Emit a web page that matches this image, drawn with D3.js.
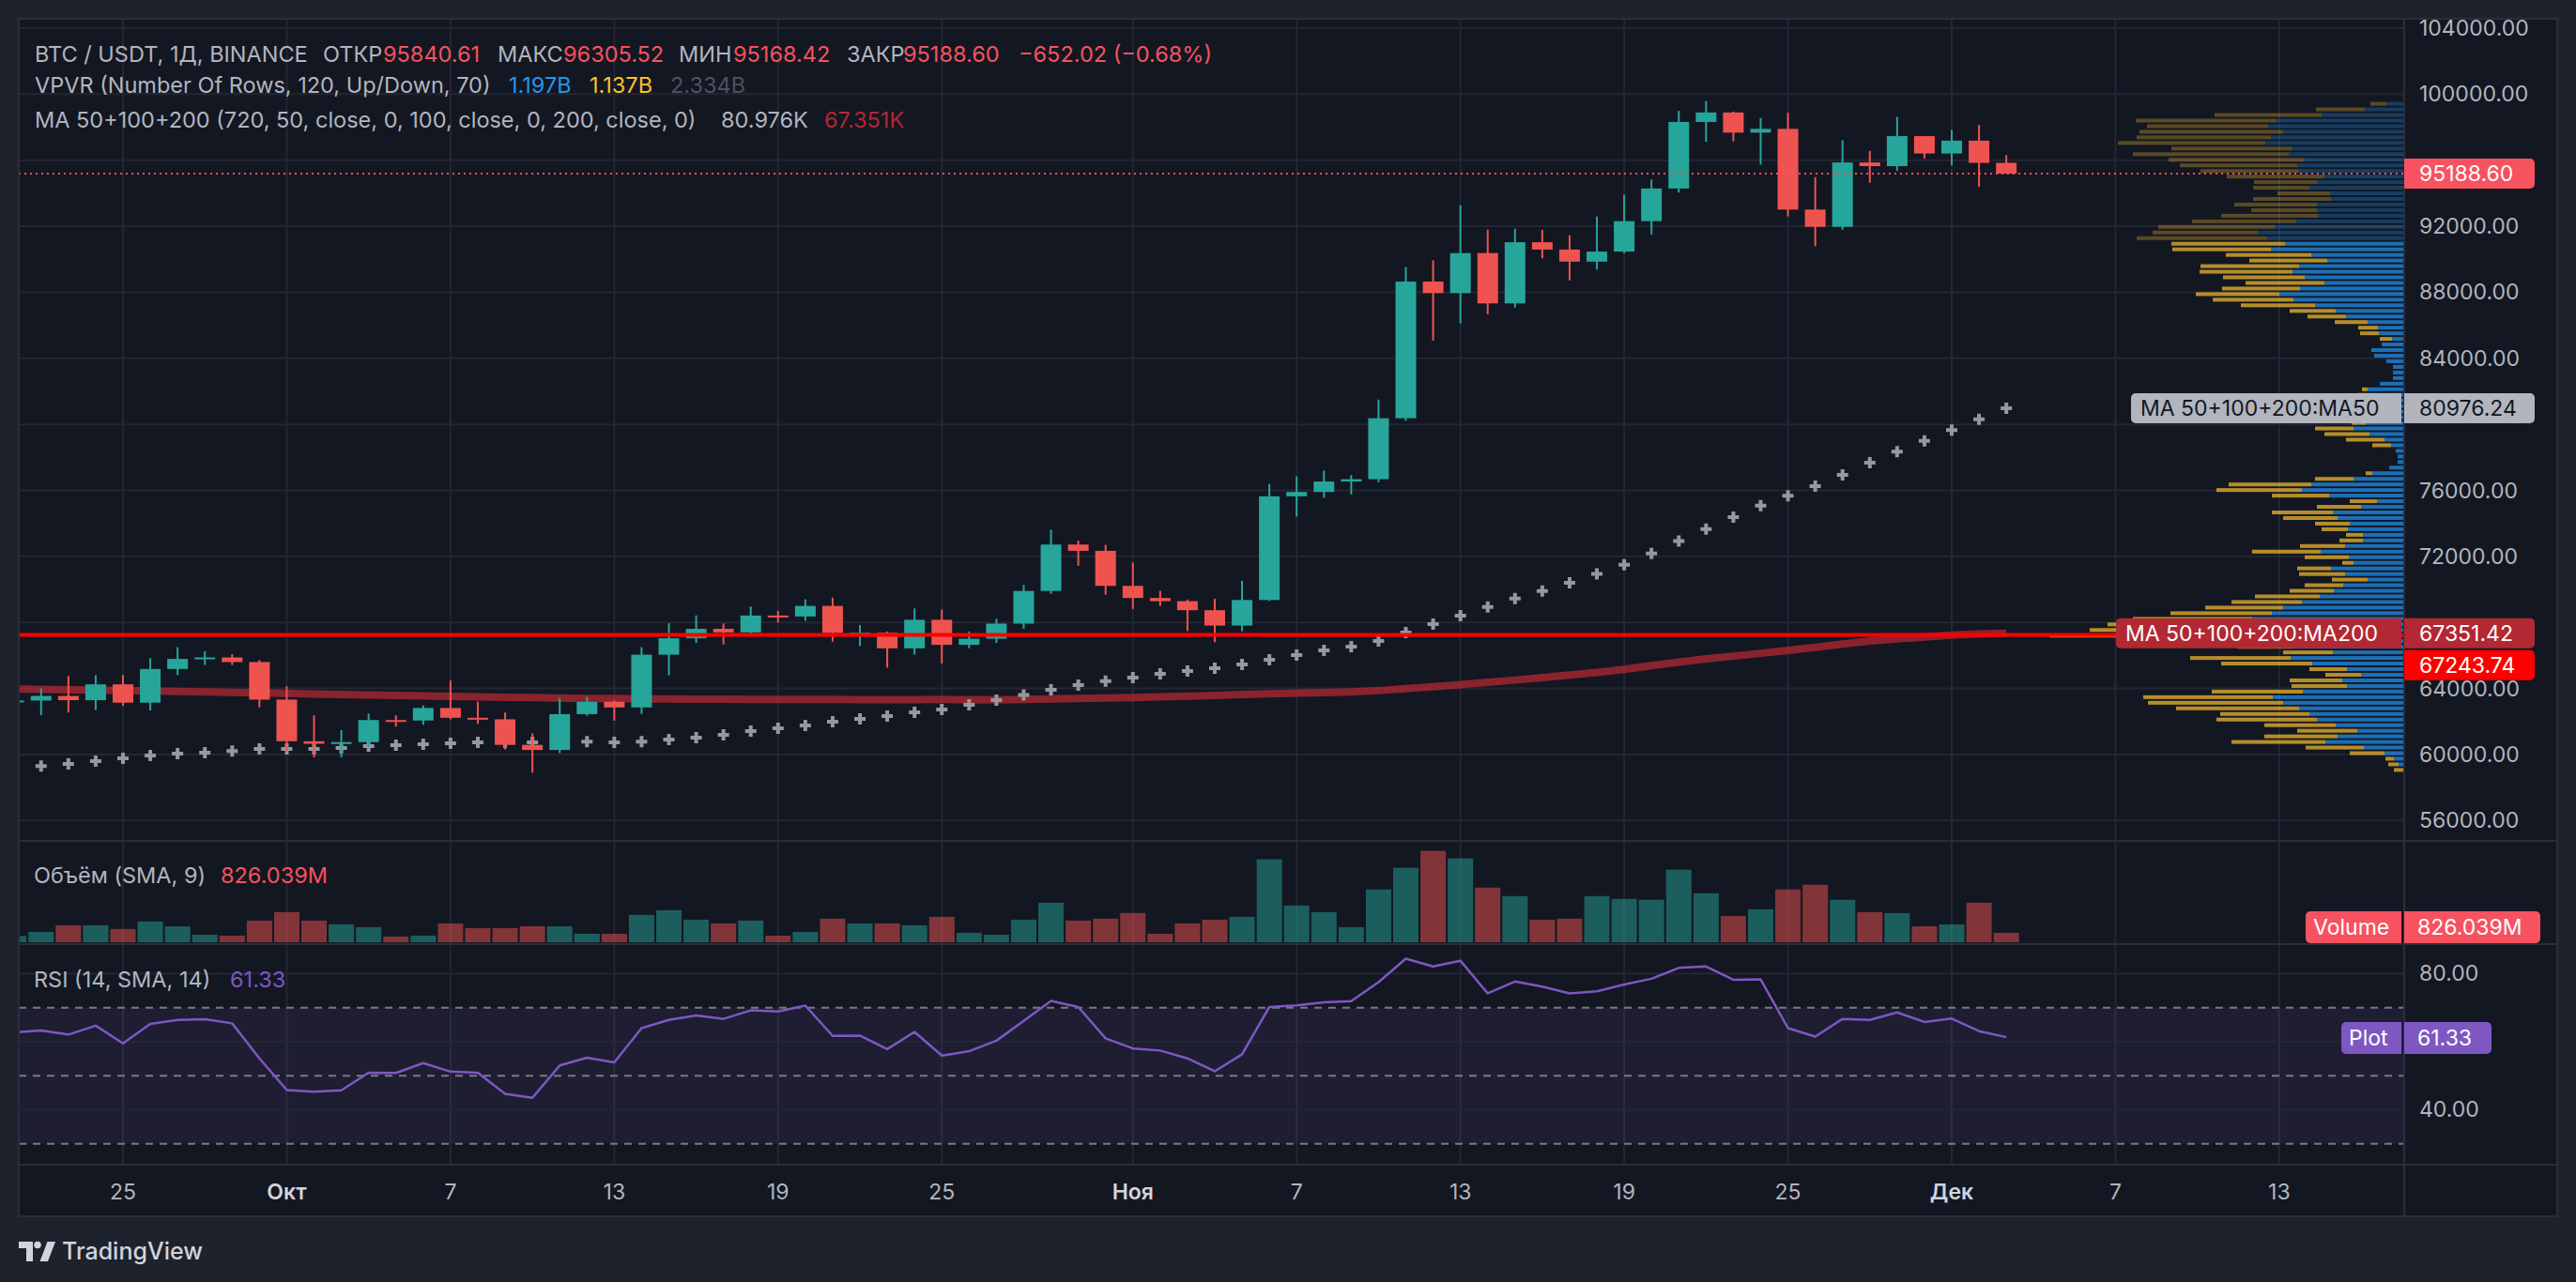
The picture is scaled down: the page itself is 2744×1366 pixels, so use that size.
<!DOCTYPE html>
<html>
<head>
<meta charset="utf-8">
<script src="https://cdn.jsdelivr.net/npm/d3@7"></script>
<style>
  html, body { margin: 0; padding: 0; background: #1e222d; }
  svg { display: block; }
</style>
</head>
<body>
<div id="chart"></div>
<script>
// ---- data (BTC / USDT, 1D, Binance, 21 Sep - 3 Dec 2024) ----
const firstDay = Date.UTC(2024, 8, 21);
const lastDay = Date.UTC(2024, 11, 3);

const open = [63190,63270,63548,63290,64250,63140,65180,65790,65880,65600,
  63327,60805,60649,60752,62086,62058,62819,62224,62131,60582,60275,62445,63193,62851,66046,67041,67612,67399,68418,68362,69001,67367,67380,66432,68161,66642,67014,67929,69907,72720,72339,
  70215,69482,69289,68741,67811,69359,75640,75904,76538,76677,80370,88648,87952,90375,87325,91032,90587,89855,90465,92310,94286,98318,98892,97672,97900,93010,91965,95863,95643,97460,
  96407,97185,95840.61];
const high = [63560,64000,64760,64800,64817,65839,66498,66255,66076,65720,
  64130,62371,61477,62484,62370,62975,64478,63200,62543,61276,63417,63480,63285,66500,67950,68424,67939,68969,68694,69400,69500,67836,67451,68850,68778,67454,68221,70270,73620,72961,72700,
  71632,69914,69388,69433,70522,76400,76849,77199,76925,81500,89530,89940,93265,91790,91850,91779,91449,92594,93905,94831,98988,99588,98945,98564,98871,94973,97208,96564,98619,97463,
  97836,98130,96305.52];
const low = [62760,62380,62540,62690,62950,62670,64819,65427,65420,62856,
  60164,59828,59828,60460,61689,61798,62128,61860,60300,58895,60087,62350,62050,62457,64800,66750,66666,67177,68003,68100,66835,66571,65260,66048,65520,66439,66762,67620,69730,71436,69685,
  68820,69000,67478,66803,67458,69299,74416,75555,75753,76492,80216,85072,86127,86668,87073,90056,88722,89376,90357,91500,94040,97122,97136,95734,92600,90791,91792,94640,95364,96092,
  95693,94395,95168.42];
const close = [63270,63548,63290,64250,63140,65180,65790,65880,65600,63327,
  60805,60649,60752,62086,62058,62819,62224,62131,60582,60275,62445,63193,62851,66046,67041,67612,67399,68418,68362,69001,67367,67380,66432,68161,66642,67014,67929,69907,72720,72339,70215,
  69482,69289,68741,67811,69359,75640,75904,76538,76677,80370,88647,87952,90375,87325,91032,90587,89855,90465,92310,94286,98318,98892,97672,97900,93010,91965,95863,95643,97460,96407,
  97185,95840.61,95188.60];

// volume, millions USDT
const volume = [550,910,1490,1490,1160,1820,1400,660,580,1900,
  2640,1900,1570,1320,500,580,1650,1240,1240,1400,1400,740,740,2400,2810,1980,1650,1900,580,910,2070,1650,1650,1490,2230,830,660,1980,3470,1900,2070,
  2560,740,1650,1980,2230,7270,3220,2640,1320,4630,6530,8010,7350,4790,4050,1980,2070,4050,3800,3720,6360,4300,2310,2890,4630,5040,3720,2640,2560,1400,
  1570,3470,826.039];

const ma50 = [59260,59300,59430,59600,59770,59940,60060,60110,60210,60340,
  60340,60340,60400,60510,60570,60620,60680,60740,60740,60740,60760,60780,60740,60780,60910,61020,61190,61420,61590,61760,61990,62160,62330,62560,62730,63010,63300,63600,63920,64210,64440,
  64660,64890,65060,65230,65460,65740,66030,66310,66540,66880,67390,67900,68410,68930,69450,69898,70405,70934,71500,72174,72925,73650,74385,75075,75680,76250,76945,77673,78350,79000,
  79650,80300,80976.24];
const ma200 = [63970,63950,63920,63900,63870,63850,63820,63790,63760,63730,
  63700,63670,63640,63610,63580,63550,63520,63490,63470,63450,63420,63400,63390,63370,63360,63350,63345,63340,63335,63330,63330,63325,63325,63325,63330,63320,63310,63330,63360,63390,63420,
  63450,63490,63530,63580,63630,63680,63720,63750,63790,63870,63990,64110,64230,64370,64510,64660,64810,64970,65160,65380,65600,65800,65960,66130,66310,66490,66690,66880,67000,67120,
  67230,67300,67351.42];

const rsi = [62.7,63.3,62.1,64.7,59.5,65.2,66.4,66.6,65.4,55.1,
  45.8,45.3,45.7,50.9,50.8,53.7,51.2,50.9,44.7,43.5,53.0,55.3,53.9,64.0,66.4,67.7,66.7,69.2,68.9,70.6,61.7,61.8,57.8,62.9,55.9,57.2,60.3,66.1,72.0,70.2,61.0,
  58.0,57.4,55.1,51.3,56.3,70.2,70.7,71.6,71.9,77.5,84.4,82.1,83.8,74.2,77.7,76.2,74.2,74.8,76.8,78.5,81.7,82.1,78.2,78.3,64.0,61.5,66.7,66.4,68.6,65.8,
  66.8,63.1,61.33];

// volume profile (visible range), 120 rows, listed from the highest price row down
const vpUp = [18,41,87,135,144,128,141,147,119,122,105,113,111,84,92,100,78,77,92,92,91,114,137,155,145,
  126,141,98,81,111,118,105,84,110,132,117,94,72,61,38,27,26,12,23,34,31,18,11,11,11,25,38,39,
  30,28,22,26,40,
  53,36,20,13,8,6,6,15,33,53,98,108,79,28,45,75,70,57,59,43,43,62,88,58,53,77,62,38,64,74,89,108,128,140,161,177,183,203,157,117,
  75,120,97,60,45,65,60,107,139,128,111,100,92,72,49,70,83,42,20,10,5,0];
const vpDown = [17,52,114,150,129,153,143,157,128,166,145,125,105,104,67,60,56,83,88,70,103,111,124,112,139,
  121,105,91,83,105,99,87,84,83,89,86,79,49,41,35,21,20,13,0,0,0,0,0,0,0,0,6,9,
  10,6,0,8,15,
  41,48,41,20,0,0,0,0,7,41,88,91,61,29,47,65,58,37,28,18,25,48,73,47,12,36,49,38,41,47,69,75,83,108,127,138,151,174,87,60,
  53,107,97,40,38,56,59,97,138,144,131,95,107,76,64,78,100,62,37,9,11,10];
const vpValueArea = [25, 119];   // rows inside the 70% value area

const hLinePrice = 67243.74;
const lastPrice = 95188.60;

const priceTicks = d3.range(56000, 104001, 4000);
const rsiGrid = [40, 60, 80];
const rsiBands = [30, 50, 70];
const rsiTicks = [40, 80];
const timeTicks = [[2024,8,25,"25"],[2024,9,1,"Окт"],[2024,9,7,"7"],[2024,9,13,"13"],[2024,9,19,"19"],[2024,9,25,"25"],
  [2024,10,1,"Ноя"],[2024,10,7,"7"],[2024,10,13,"13"],[2024,10,19,"19"],[2024,10,25,"25"],[2024,11,1,"Дек"],[2024,11,7,"7"],[2024,11,13,"13"]];

// ---- layout ----
const W = 2744, H = 1366;
const L = 20, R = 2724, T = 20, B = 1296, AX = 2561;
const mainBottom = 895, volTop = 897, volBottom = 1005, rsiTop = 1007, rsiBottom = 1241;
const FONT = "Inter, 'Noto Sans', sans-serif";
const TXT = "#b2b5be", UP = "#26a69a", DOWN = "#ef5350", LBL_RED = "#f7525f", GRID = "#232733", LINE = "#2a2e39";

const days = d3.utcDay.range(new Date(firstDay), new Date(lastDay + 1));
const bars = days.map((d, i) => ({ d, o: open[i], h: high[i], l: low[i], c: close[i], v: volume[i], ma50: ma50[i], ma200: ma200[i], rsi: rsi[i] }));

const x = d3.scaleUtc().domain([new Date(Date.UTC(2024, 8, 25)), new Date(Date.UTC(2024, 11, 1))]).range([131, 2079]);
const y = d3.scaleLinear().domain([56000, 104000]).range([874.3, 30]);
const yVol = d3.scaleLinear().domain([0, 8800]).range([1004, volTop]);
const yRsi = d3.scaleLinear().domain([30, 70]).range([1218.7, 1073.7]);

const svg = d3.select("#chart").append("svg")
  .attr("width", W).attr("height", H)
  .style("font-family", FONT);

svg.append("rect").attr("width", W).attr("height", H).attr("fill", "#1e222d");
svg.append("rect").attr("x", L).attr("y", T).attr("width", R - L).attr("height", B - T).attr("fill", "#131722");

const defs = svg.append("defs");
function clip(id, x0, y0, x1, y1) {
  defs.append("clipPath").attr("id", id).append("rect").attr("x", x0).attr("y", y0).attr("width", x1 - x0).attr("height", y1 - y0);
  return `url(#${id})`;
}
const clipMain = clip("cMain", L, T, AX, mainBottom);
const clipVol = clip("cVol", L, volTop, AX, volBottom);
const clipRsi = clip("cRsi", L, rsiTop, AX, rsiBottom);

// ---- grid ----
const grid = svg.append("g");
grid.selectAll(".vg").data(timeTicks).join("line")
  .attr("x1", d => x(new Date(Date.UTC(d[0], d[1], d[2])))).attr("x2", d => x(new Date(Date.UTC(d[0], d[1], d[2]))))
  .attr("y1", T).attr("y2", rsiBottom).attr("stroke", GRID).attr("stroke-width", 2);
grid.selectAll(".hg").data(priceTicks).join("line")
  .attr("x1", L).attr("x2", AX).attr("y1", d => y(d)).attr("y2", d => y(d))
  .attr("stroke", GRID).attr("stroke-width", 2);

// ---- volume profile ----
const vpLo = d3.min(low), vpHi = d3.max(high), vpStep = (vpHi - vpLo) / vpUp.length;
const vpW = d3.scaleLinear().domain([0, d3.max(vpUp, (u, i) => u + vpDown[i])]).range([0, 377]);
const rowPx = y(vpLo) - y(vpLo + vpStep);
const vpRows = vpUp.map((u, i) => ({ u, dn: vpDown[i], p: vpHi - (i + 0.5) * vpStep, inVA: i >= vpValueArea[0] && i <= vpValueArea[1] }));
const vp = svg.append("g").attr("clip-path", clipMain);
vp.selectAll(".vpu").data(vpRows).join("rect")
  .attr("x", d => AX - 1 - vpW(d.u)).attr("width", d => vpW(d.u))
  .attr("y", d => y(d.p) - rowPx * 0.34).attr("height", rowPx * 0.68)
  .attr("fill", "#2196f3").attr("fill-opacity", d => d.inVA ? 0.7 : 0.3);
vp.selectAll(".vpd").data(vpRows).join("rect")
  .attr("x", d => AX - 1 - vpW(d.u) - vpW(d.dn)).attr("width", d => vpW(d.dn))
  .attr("y", d => y(d.p) - rowPx * 0.34).attr("height", rowPx * 0.68)
  .attr("fill", "#fbc02d").attr("fill-opacity", d => d.inVA ? 0.7 : 0.3);

// ---- main pane ----
const main = svg.append("g").attr("clip-path", clipMain);

main.append("path").datum(bars)
  .attr("d", d3.line().x(d => x(d.d)).y(d => y(d.ma200)))
  .attr("fill", "none").attr("stroke", "#b22833").attr("stroke-opacity", 0.75).attr("stroke-width", 8);

main.selectAll(".ma50").data(bars).join("path")
  .attr("transform", d => `translate(${x(d.d)},${y(d.ma50)})`)
  .attr("d", "M-6,-2H-2V-6H2V-2H6V2H2V6H-2V2H-6Z")
  .attr("fill", "#9598a1");

const candle = main.selectAll(".candle").data(bars).join("g")
  .attr("fill", d => d.c >= d.o ? UP : DOWN);
candle.append("rect")
  .attr("x", d => x(d.d) - 1).attr("width", 2)
  .attr("y", d => y(d.h)).attr("height", d => Math.max(1, y(d.l) - y(d.h)));
candle.append("rect")
  .attr("x", d => x(d.d) - 11).attr("width", 22)
  .attr("y", d => y(Math.max(d.o, d.c))).attr("height", d => Math.max(2, Math.abs(y(d.o) - y(d.c))));

main.append("line").attr("x1", L).attr("x2", AX).attr("y1", y(hLinePrice)).attr("y2", y(hLinePrice))
  .attr("stroke", "#ff0000").attr("stroke-width", 4);
main.append("line").attr("x1", L).attr("x2", AX).attr("y1", y(lastPrice)).attr("y2", y(lastPrice))
  .attr("stroke", LBL_RED).attr("stroke-width", 2).attr("stroke-dasharray", "2 4");

// ---- volume pane ----
svg.append("g").attr("clip-path", clipVol)
  .selectAll("rect").data(bars).join("rect")
  .attr("x", d => x(d.d) - 13.5).attr("width", 27)
  .attr("y", d => yVol(d.v)).attr("height", d => yVol(0) - yVol(d.v))
  .attr("fill", d => d.c >= d.o ? UP : DOWN).attr("fill-opacity", 0.5);

// ---- RSI pane ----
const rsiG = svg.append("g").attr("clip-path", clipRsi);
rsiG.append("rect").attr("x", L).attr("width", AX - L)
  .attr("y", yRsi(70)).attr("height", yRsi(30) - yRsi(70))
  .attr("fill", "#7e57c2").attr("fill-opacity", 0.1);
rsiG.selectAll(".rg").data(rsiGrid).join("line")
  .attr("x1", L).attr("x2", AX).attr("y1", d => yRsi(d)).attr("y2", d => yRsi(d))
  .attr("stroke", GRID).attr("stroke-width", 2);
rsiG.selectAll(".rb").data(rsiBands).join("line")
  .attr("x1", L).attr("x2", AX).attr("y1", d => yRsi(d)).attr("y2", d => yRsi(d))
  .attr("stroke", "#787b86").attr("stroke-width", 2).attr("stroke-dasharray", "8 7");
rsiG.append("path").datum(bars)
  .attr("d", d3.line().x(d => x(d.d)).y(d => yRsi(d.rsi)))
  .attr("fill", "none").attr("stroke", "#7e57c2").attr("stroke-width", 2.5).attr("stroke-linejoin", "round");

// ---- frame & separators ----
const frame = svg.append("g").attr("stroke", LINE).attr("stroke-width", 2);
[mainBottom + 1, volBottom + 1, rsiBottom].forEach(v => frame.append("line").attr("x1", L).attr("x2", R).attr("y1", v).attr("y2", v));
frame.append("line").attr("x1", AX).attr("x2", AX).attr("y1", T).attr("y2", B);
frame.append("rect").attr("x", L).attr("y", T).attr("width", R - L).attr("height", B - T).attr("fill", "none");

// ---- axes labels (ticks hidden behind a price tag are left out) ----
const tagPrices = [lastPrice, ma50[ma50.length - 1], ma200[ma200.length - 1]];
const tagYs = tagPrices.map(p => y(p)).concat([y(ma200[ma200.length - 1]) + 34]);
const freeTicks = priceTicks.filter(p => tagYs.every(t => Math.abs(y(p) - t) > 24));

const axisText = svg.append("g").attr("font-size", 23).attr("fill", TXT).attr("dominant-baseline", "central");
axisText.selectAll(".pt").data(freeTicks).join("text")
  .attr("x", 2577).attr("y", d => y(d)).text(d => d3.format(".2f")(d));
axisText.selectAll(".rt").data(rsiTicks).join("text")
  .attr("x", 2577).attr("y", d => yRsi(d)).text(d => d3.format(".2f")(d));
axisText.selectAll(".tt").data(timeTicks).join("text")
  .attr("x", d => x(new Date(Date.UTC(d[0], d[1], d[2])))).attr("y", 1270)
  .attr("text-anchor", "middle")
  .attr("font-weight", d => isNaN(+d[3]) ? 600 : 400)
  .attr("fill", d => isNaN(+d[3]) ? "#d1d4dc" : TXT)
  .text(d => d[3]);

// ---- price-scale labels ----
function tag(g, yc, value, bg, fg, name, nameX) {
  const h = 32;
  if (name) {
    g.append("rect").attr("x", nameX).attr("y", yc - h / 2).attr("width", 2558 - nameX).attr("height", h).attr("rx", 5).attr("fill", bg);
    g.append("rect").attr("x", 2548).attr("y", yc - h / 2).attr("width", 10).attr("height", h).attr("fill", bg);
    g.append("text").attr("x", nameX + 10).attr("y", yc).attr("dominant-baseline", "central").attr("font-size", 23).attr("fill", fg).text(name);
  }
  g.append("rect").attr("x", 2561).attr("y", yc - h / 2).attr("width", 139).attr("height", h).attr("rx", 5).attr("fill", bg);
  g.append("rect").attr("x", 2561).attr("y", yc - h / 2).attr("width", 10).attr("height", h).attr("fill", bg);
  g.append("text").attr("x", 2577).attr("y", yc).attr("dominant-baseline", "central").attr("font-size", 23).attr("fill", fg).text(value);
}
const tags = svg.append("g");
tag(tags, tagYs[0], d3.format(".2f")(lastPrice), LBL_RED, "#ffffff");
tag(tags, tagYs[1], d3.format(".2f")(ma50[ma50.length - 1]), "#b2b5be", "#131722", "MA 50+100+200:MA50", 2270);
tag(tags, tagYs[2], d3.format(".2f")(ma200[ma200.length - 1]), "#b22833", "#ffffff", "MA 50+100+200:MA200", 2254);
tag(tags, tagYs[3], d3.format(".2f")(hLinePrice), "#ff0000", "#ffffff");

function paneTag(yc, name, nameX, value, valueW, bg) {
  const h = 34;
  tags.append("rect").attr("x", nameX).attr("y", yc - h / 2).attr("width", 2558 - nameX).attr("height", h).attr("rx", 5).attr("fill", bg);
  tags.append("rect").attr("x", 2548).attr("y", yc - h / 2).attr("width", 10).attr("height", h).attr("fill", bg);
  tags.append("rect").attr("x", 2561).attr("y", yc - h / 2).attr("width", valueW).attr("height", h).attr("rx", 5).attr("fill", bg);
  tags.append("rect").attr("x", 2561).attr("y", yc - h / 2).attr("width", 10).attr("height", h).attr("fill", bg);
  tags.append("text").attr("x", nameX + 8).attr("y", yc).attr("dominant-baseline", "central").attr("font-size", 23).attr("fill", "#fff").text(name);
  tags.append("text").attr("x", 2575).attr("y", yc).attr("dominant-baseline", "central").attr("font-size", 23).attr("fill", "#fff").text(value);
}
paneTag(988, "Volume", 2456, "826.039M", 145, LBL_RED);
paneTag(1106, "Plot", 2494, d3.format(".2f")(rsi[rsi.length - 1]), 93, "#7e57c2");

// ---- legends ----
const legend = [
  [57, [["BTC / USDT, 1Д, BINANCE", 37, TXT], ["ОТКР", 344, TXT], ["95840.61", 408, LBL_RED], ["МАКС", 530, TXT], ["96305.52", 600, LBL_RED],
        ["МИН", 723, TXT], ["95168.42", 781, LBL_RED], ["ЗАКР", 902, TXT], ["95188.60", 962, LBL_RED], ["−652.02 (−0.68%)", 1085, LBL_RED]]],
  [90, [["VPVR (Number Of Rows, 120, Up/Down, 70)", 37, TXT], ["1.197B", 542, "#2196f3"], ["1.137B", 628, "#fbc02d"], ["2.334B", 714, "#4c525e"]]],
  [127, [["MA 50+100+200 (720, 50, close, 0, 100, close, 0, 200, close, 0)", 37, TXT], ["80.976K", 768, TXT], ["67.351K", 878, "#b22833"]]],
  [932, [["Объём (SMA, 9)", 36, TXT], ["826.039M", 235, LBL_RED]]],
  [1043, [["RSI (14, SMA, 14)", 36, TXT], ["61.33", 245, "#7e57c2"]]]
];
const lg = svg.append("g").attr("font-size", 23.5).attr("dominant-baseline", "central");
legend.forEach(([ly, parts]) => {
  parts.forEach(([t, lx, col]) => lg.append("text").attr("x", lx).attr("y", ly).attr("fill", col).text(t));
});

// ---- TradingView mark ----
const logo = svg.append("g").attr("transform", "translate(20,1319)").attr("fill", "#d1d4dc");
logo.append("path").attr("d", "M15 25H8V11H0V4h15v21zM31 25h-8.5l8-21h8.5L31 25z");
logo.append("circle").attr("cx", 20).attr("cy", 7.5).attr("r", 3.8);
svg.append("text").attr("x", 66).attr("y", 1333).attr("dominant-baseline", "central")
  .attr("font-size", 25).attr("font-weight", 500).attr("fill", "#d1d4dc").text("TradingView");
</script>
</body>
</html>
